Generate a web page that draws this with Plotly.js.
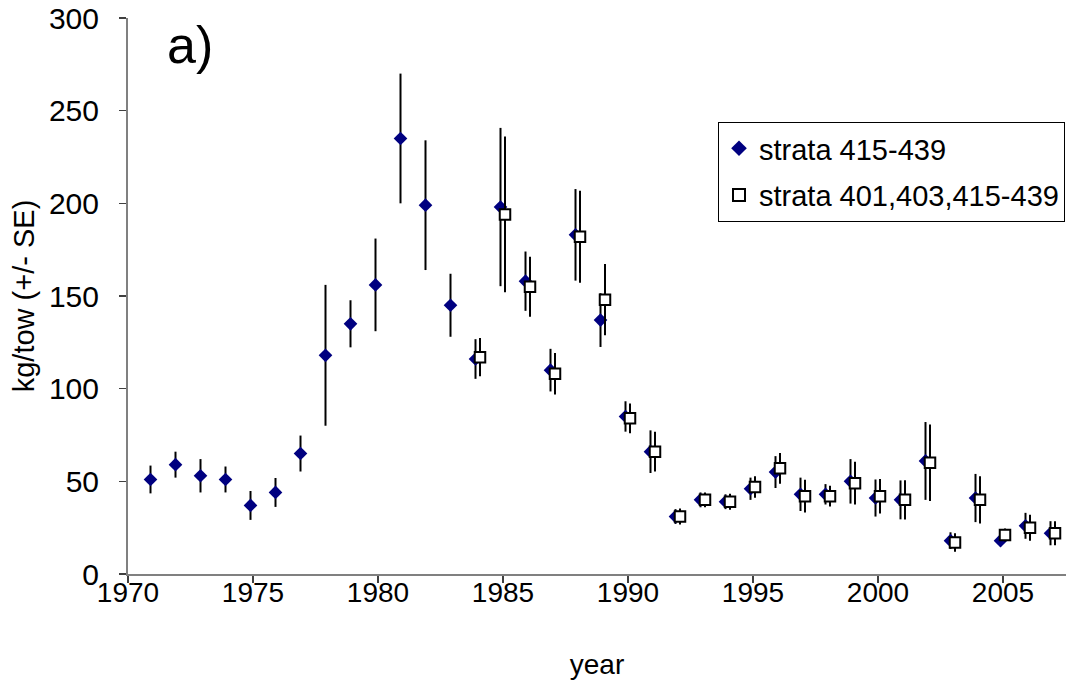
<!DOCTYPE html>
<html>
<head>
<meta charset="utf-8">
<script src="https://cdn.plot.ly/plotly-3.0.1.min.js"></script>
<style>html,body{margin:0;padding:0;background:#fff;}#chart{width:1066px;height:688px;}</style>
</head>
<body>
<div id="chart"></div>
<script>
// Series 1: strata 415-439
const years1 = [1971,1972,1973,1974,1975,1976,1977,1978,1979,1980,1981,1982,1983,1984,1985,1986,1987,1988,1989,1990,1991,1992,1993,1994,1995,1996,1997,1998,1999,2000,2001,2002,2003,2004,2005,2006,2007];
const values1 = [51,59,53,51,37,44,65,118,135,156,235,199,145,116,198,158,110,183,137,85,66,31,40,39,46,55,43,43,50,41,40,61,18,41,18,26,22];
const se1 = [7.5,7,9,7,7.8,7.8,9.7,38,12.7,25,35,35,17,10.7,42.7,16,11.5,24.7,14.5,8.2,11.5,4,4,4,6,8.6,9,5.5,12,10,10.5,21,4.5,13,3,7,6.5];

// Series 2: strata 401,403,415-439
const years2 = [1984,1985,1986,1987,1988,1989,1990,1991,1992,1993,1994,1995,1996,1997,1998,1999,2000,2001,2002,2003,2004,2005,2006,2007];
const values2 = [117,194,155,108,182,148,84,66,31,40,39,47,57,42,42,49,42,40,60,17,40,21,25,22];
const se2 = [10.3,42,16.2,11.2,24.8,19.2,8,10.7,4.3,4,4.3,5.8,8.3,8.8,5.6,11.5,9.3,10.6,20.6,5,12.8,3.5,7,6.5];

const seriesNames = ['strata 415-439', 'strata 401,403,415-439'];
const xTickVals = [1970,1975,1980,1985,1990,1995,2000,2005];
const yTickVals = [0,50,100,150,200,250,300];

// small horizontal dodge so the two series don't overlap exactly
const dodge1 = -0.1, dodge2 = 0.08;

const FONT = 'Liberation Sans, Arial, sans-serif';

const traces = [
  {
    type: 'scatter', mode: 'markers', name: seriesNames[0], legendgroup: 'g1',
    x: years1.map(y => y + dodge1), y: values1,
    marker: {symbol: 'diamond', size: 10.5, color: '#000080'},
    error_y: {type: 'data', array: se1, visible: true, color: '#000000', thickness: 2, width: 0}
  },
  {
    type: 'scatter', mode: 'markers', name: seriesNames[1], legendgroup: 'g2',
    x: years2.map(y => y + dodge2), y: values2,
    marker: {symbol: 'square', size: 10.5, color: '#ffffff', line: {color: '#000000', width: 2}},
    error_y: {type: 'data', array: se2, visible: true, color: '#000000', thickness: 2, width: 0}
  }
];

const layout = {
  width: 1066, height: 688,
  paper_bgcolor: '#ffffff', plot_bgcolor: '#ffffff',
  margin: {l: 128, r: 0, t: 18, b: 114},
  font: {family: FONT, color: '#000000', size: 26},
  showlegend: true,
  xaxis: {
    range: [1970, 2007.52], tickvals: xTickVals, ticktext: xTickVals.map(String),
    showgrid: false, zeroline: false, showline: true, linecolor: '#808080', linewidth: 2,
    ticks: 'outside', ticklen: 7, tickwidth: 1.5, tickcolor: '#404040',
    ticklabelstandoff: -15,
    tickfont: {family: FONT, size: 28, color: '#000'},
    title: {text: 'year', font: {family: FONT, size: 28, color: '#000'}, standoff: 48}
  },
  yaxis: {
    range: [0, 300], tickvals: yTickVals, ticktext: yTickVals.map(String),
    showgrid: false, zeroline: false, showline: true, linecolor: '#808080', linewidth: 2,
    ticks: 'outside', ticklen: 7, tickwidth: 1.5, tickcolor: '#404040',
    ticklabelstandoff: 14,
    tickfont: {family: FONT, size: 30, color: '#000'},
    title: {text: 'kg/tow (+/- SE)', font: {family: FONT, size: 29, color: '#000'}, standoff: 6}
  },
  legend: {
    x: 0.629, y: 0.813, xanchor: 'left', yanchor: 'top',
    bgcolor: '#ffffff', bordercolor: '#000000', borderwidth: 1,
    font: {family: FONT, size: 29, color: '#000'},
    traceorder: 'grouped', tracegroupgap: 6, itemsizing: 'constant'
  },
  annotations: [
    {text: 'a)', xref: 'paper', yref: 'paper', x: 0.066, y: 0.952, xanchor: 'center', yanchor: 'middle',
     showarrow: false, font: {family: FONT, size: 52, color: '#000'}}
  ]
};

Plotly.newPlot('chart', traces, layout, {displayModeBar: false, staticPlot: true});
</script>
</body>
</html>
